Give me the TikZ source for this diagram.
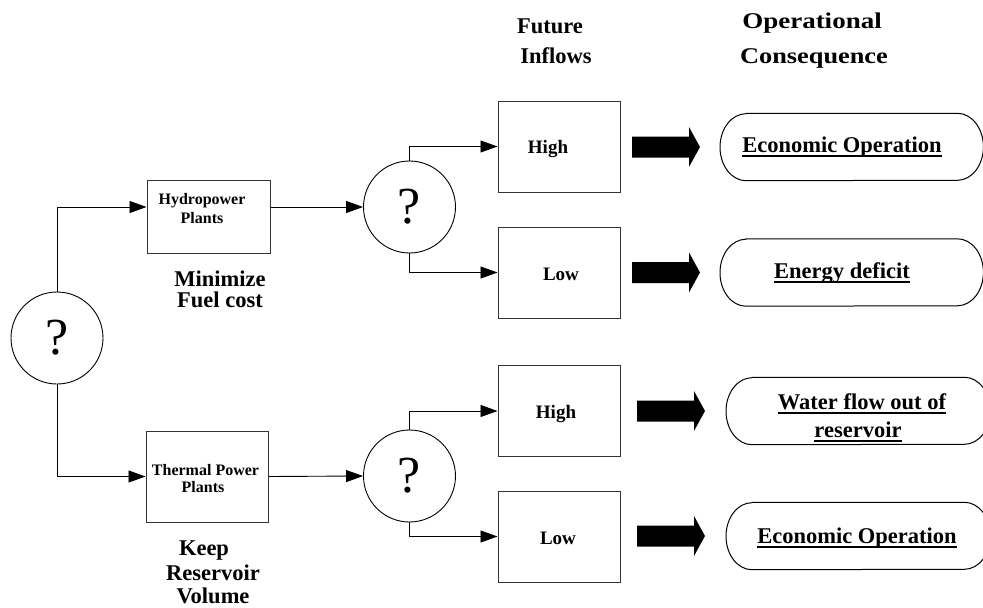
\documentclass[tikz,border=0pt]{standalone}
\usepackage{fontspec}
\setmainfont{Liberation Serif}
\usetikzlibrary{arrows.meta}

% underline at a fixed depth below the baseline
\newcommand\uln[1]{\setbox0=\hbox{#1}\rlap{\rule[-4.5pt]{\wd0}{1.5pt}}\box0}

\tikzset{
  wire/.style={line width=0.9pt, draw=black},
  link/.style={wire, -{Triangle[length=17pt,width=12pt]}},
  decision/.style={circle, draw=black, line width=0.9pt, minimum size=92pt,
    inner sep=0pt, font=\fontsize{52}{52}\selectfont},
  plantbox/.style={draw=black!80, line width=1pt, inner sep=0pt},
  inflowbox/.style={draw=black!80, line width=1pt, minimum width=122pt,
    minimum height=91pt, inner sep=0pt},
  outcome/.style={minimum height=67pt, inner sep=0pt, anchor=west},
  small/.style={font=\bfseries\fontsize{16}{18}\selectfont, anchor=base, inner sep=0pt},
  mid/.style={font=\bfseries\fontsize{19}{22}\selectfont, anchor=base, inner sep=0pt},
  big/.style={font=\bfseries\fontsize{22.5}{25}\selectfont, anchor=base, inner sep=0pt},
  fatarrow/.pic={\fill (0,10.5) -- (57,10.5) -- (57,20) -- (68,0) -- (57,-20)
    -- (57,-10.5) -- (0,-10.5) -- cycle;},
}

\begin{document}
\begin{tikzpicture}[x=1pt, y=-1pt]
\useasboundingbox (0,0) rectangle (983,608);

% decision points
\node[decision] (d0) at (57,338) {?};
\node[decision] (d1) at (409.5,207) {?};
\node[decision] (d2) at (409.5,476) {?};

% plant boxes
\node[plantbox, minimum width=123pt, minimum height=73pt] (hydro) at (208.5,216.5) {};
\node[small] (hydroA) at (202,204) {Hydropower};
\node[small] (hydroB) at (202,223) {Plants};
\node[plantbox, minimum width=122pt, minimum height=91pt] (thermal) at (207,476.5) {};
\node[small] (thermA) at (205.5,475) {Thermal Power};
\node[small] (thermB) at (203,492) {Plants};

% objectives
\node[big] (obj1) at (220,286.5) {Minimize};
\node[big] (obj2) at (220,307.5) {Fuel cost};
\node[big] (obj3) at (204,555) {Keep};
\node[big] (obj4) at (213,580.5) {Reservoir};
\node[big] (obj5) at (213,603.5) {Volume};

% inflow scenarios
\node[inflowbox] (hi1) at (559,146.5) {};
\node[inflowbox] (lo1) at (559,272.5) {};
\node[inflowbox] (hi2) at (559,411) {};
\node[inflowbox] (lo2) at (559,536.5) {};
\node[mid] (hi1t) at (548,153) {High};
\node[mid] (lo1t) at (561,280) {Low};
\node[mid] (hi2t) at (556,418) {High};
\node[mid] (lo2t) at (558,544) {Low};

% column headings
\node[big] (h1) at (550,33) {Future};
\node[big] (h2) at (556,63) {Inflows};
\node[big] (h3) at (812,28) {\scalebox{1.2}[1]{Operational}};
\node[big] (h4) at (814,63) {\scalebox{1.17}[1]{Consequence}};

% consequences
\node[outcome, minimum width=263pt] (o1) at (720,147) {};
\node[outcome, minimum width=263pt] (o2) at (720,272.5) {};
\node[outcome, minimum width=264pt] (o3) at (726,411) {};
\node[outcome, minimum width=264pt] (o4) at (726,536) {};
\foreach \n in {o1,o2,o3,o4}
  \draw[line width=1pt] ([xshift=26pt]\n.north west) -- ([xshift=-26pt]\n.north east)
    arc[start angle=90, end angle=-90, x radius=26pt, y radius=33.5pt]
    -- ([xshift=26pt]\n.south west)
    arc[start angle=270, end angle=90, x radius=26pt, y radius=33.5pt] -- cycle;
\node[big] (o1t) at (842,152) {\uln{Economic Operation}};
\node[big] (o2t) at (842,278) {\uln{Energy deficit}};
\node[big] (o3t) at (862,409) {\uln{Water flow out of}};
\node[big] (o3u) at (858,437) {\uln{reservoir}};
\node[big] (o4t) at (857,543) {\uln{Economic Operation}};

% block arrows
\pic (a1) at (632,147) {fatarrow};
\pic (a2) at (632,272.5) {fatarrow};
\pic (a3) at (637,411) {fatarrow};
\pic (a4) at (637,536) {fatarrow};

% connectors
\draw[link] (d0.north) |- ([yshift=9.5pt]hydro.west);
\draw[link] (d0.south) |- (thermal.west);
\draw[link] ([yshift=9.5pt]hydro.east) -- (d1.west);
\draw[link] (thermal.east) -- (d2.west);
\draw[link] (d1.north) |- (hi1.west);
\draw[link] (d1.south) |- (lo1.west);
\draw[link] (d2.north) |- (hi2.west);
\draw[link] (d2.south) |- (lo2.west);
\end{tikzpicture}
\end{document}
